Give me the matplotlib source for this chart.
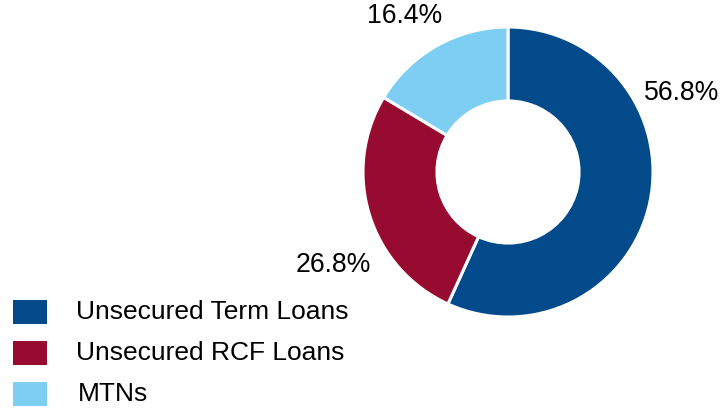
import numpy as np
import matplotlib.pyplot as plt
from matplotlib.patches import Rectangle

labels = ["Unsecured Term Loans", "Unsecured RCF Loans", "MTNs"]
shares = [56.8, 26.8, 16.4]
colors = ["#034A8B", "#970B31", "#7ECEF4"]
# label anchor points (data units, radius 1)
label_pos = [(1.195, 0.545), (-1.205, -0.64), (-0.71, 1.075)]

plt.rcParams['font.family'] = ['Liberation Sans', 'DejaVu Sans']

fig = plt.figure(figsize=(7.25, 4.09), dpi=100)
ax = fig.add_axes([363 / 725, (409 - 317) / 409, 290 / 725, 290 / 409])
ax.pie(shares, colors=colors, startangle=90, counterclock=False, radius=1,
       wedgeprops=dict(width=0.51, edgecolor='white', linewidth=2.2))
ax.set_xlim(-1, 1)
ax.set_ylim(-1, 1)
ax.set_aspect('equal')
ax.axis('off')

for val, (x, y) in zip(shares, label_pos):
    ax.text(x, y, f"{val:.1f}%", ha='center', va='center', fontsize=19.2,
            color='black', clip_on=False)

# legend, drawn by hand
box_top = [300, 341, 382]
text_x = [76, 76, 78]
for lab, c, top, tx in zip(labels, colors, box_top, text_x):
    fig.patches.append(Rectangle((13 / 725, (409 - top - 24) / 409), 34 / 725, 24 / 409,
                                 transform=fig.transFigure, facecolor=c, edgecolor='none'))
    fig.text(tx / 725, (409 - top - 12) / 409, lab, ha='left', va='center',
             fontsize=19, color='black')

fig.savefig("out.png", dpi=100)
